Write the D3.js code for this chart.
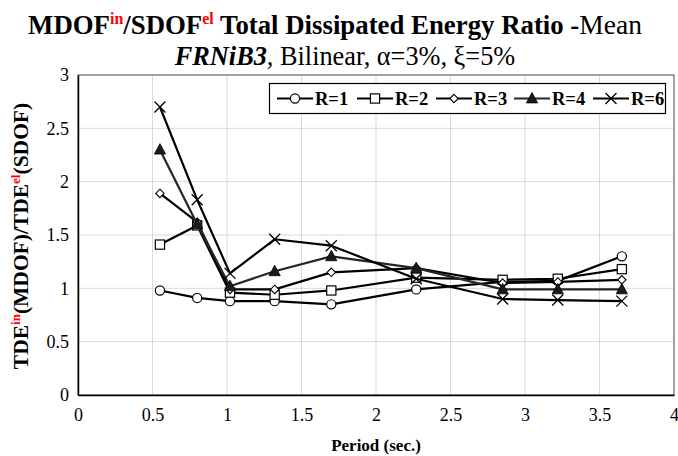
<!DOCTYPE html>
<html>
<head>
<meta charset="utf-8">
<script src="https://cdn.jsdelivr.net/npm/d3@7"></script>
<style>
  html, body { margin: 0; padding: 0; background: #fff; }
  svg { display: block; }
</style>
</head>
<body>
<svg id="chart" width="678" height="456"></svg>
<script>
// Mean total dissipated energy ratio vs. period, one series per R
const periods = [0.55, 0.8, 1.02, 1.32, 1.7, 2.27, 2.85, 3.22, 3.65];
const seriesNames = ["R=1", "R=2", "R=3", "R=4", "R=6"];
const r1 = [0.98, 0.91, 0.88, 0.88, 0.85, 0.99, 1.06, 1.07, 1.30];
const r2 = [1.41, 1.59, 0.96, 0.94, 0.98, 1.10, 1.08, 1.09, 1.18];
const r3 = [1.89, 1.62, 0.99, 0.99, 1.15, 1.19, 1.05, 1.06, 1.08];
const r4 = [2.30, 1.60, 1.02, 1.16, 1.30, 1.19, 0.99, 0.99, 0.99];
const r6 = [2.70, 1.83, 1.14, 1.46, 1.40, 1.09, 0.90, 0.89, 0.88];
const xTicks = [0, 0.5, 1, 1.5, 2, 2.5, 3, 3.5, 4];
const yTicks = [0, 0.5, 1, 1.5, 2, 2.5, 3];

const seriesValues = [r1, r2, r3, r4, r6];
const markerKinds = ["circle", "square", "diamond", "triangle", "cross"];
const lineColors = ["#000", "#000", "#000", "#262626", "#000"];
const SERIF = "Liberation Serif, DejaVu Serif, serif";

const svg = d3.select("#chart").attr("font-family", SERIF);
const plot = { left: 78, right: 674, top: 75, bottom: 395 };

const x = d3.scaleLinear().domain([0, 4]).range([plot.left, plot.right]);
const y = d3.scaleLinear().domain([0, 3]).range([plot.bottom, plot.top]);

// gridlines
const grid = svg.append("g");
grid.selectAll("line.h").data(yTicks).join("line")
  .attr("x1", plot.left).attr("x2", plot.right)
  .attr("y1", d => y(d)).attr("y2", d => y(d))
  .attr("stroke", "#d9d9d9").attr("stroke-width", 1);
grid.selectAll("line.v").data(xTicks).join("line")
  .attr("y1", plot.top).attr("y2", plot.bottom)
  .attr("x1", d => x(d)).attr("x2", d => x(d))
  .attr("stroke", "#d9d9d9").attr("stroke-width", 1);

// plot frame
svg.append("rect")
  .attr("x", plot.left).attr("y", plot.top)
  .attr("width", plot.right - plot.left).attr("height", plot.bottom - plot.top)
  .attr("fill", "none").attr("stroke", "#595959").attr("stroke-width", 1);

// axes
const xAxis = d3.axisBottom(x).tickValues(xTicks).tickFormat(d3.format("")).tickSize(0).tickPadding(13);
const yAxis = d3.axisLeft(y).tickValues(yTicks).tickFormat(d3.format("")).tickSize(0).tickPadding(9);

const gx = svg.append("g").attr("transform", `translate(0,${plot.bottom})`).call(xAxis);
const gy = svg.append("g").attr("transform", `translate(${plot.left},0)`).call(yAxis);
[gx, gy].forEach(g => {
  g.attr("font-family", SERIF).attr("font-size", 18);
  g.select(".domain").attr("stroke", "#000").attr("stroke-width", 1.5);
  g.selectAll("text").attr("fill", "#000");
});

// marker drawing
function drawMarker(sel, kind) {
  if (kind === "circle") {
    sel.append("circle").attr("r", 4.6).attr("fill", "#fff").attr("stroke", "#000").attr("stroke-width", 1.2);
  } else if (kind === "square") {
    sel.append("rect").attr("x", -4.6).attr("y", -4.6).attr("width", 9.2).attr("height", 9.2)
      .attr("fill", "#fff").attr("stroke", "#000").attr("stroke-width", 1.2);
  } else if (kind === "diamond") {
    sel.append("path").attr("d", "M0,-4.2L4.2,0L0,4.2L-4.2,0Z")
      .attr("fill", "#fff").attr("stroke", "#000").attr("stroke-width", 1.1);
  } else if (kind === "triangle") {
    sel.append("path").attr("d", "M0,-6L5.6,4.4L-5.6,4.4Z")
      .attr("fill", "#1a1a1a").attr("stroke", "#000").attr("stroke-width", 0.8);
  } else if (kind === "cross") {
    sel.append("path").attr("d", "M-5.5,-5.5L5.5,5.5M-5.5,5.5L5.5,-5.5")
      .attr("fill", "none").attr("stroke", "#000").attr("stroke-width", 1.3);
  }
}

const line = d3.line().x(d => x(d[0])).y(d => y(d[1]));

seriesValues.forEach((vals, i) => {
  const pts = periods.map((p, j) => [p, vals[j]]);
  const g = svg.append("g");
  g.append("path").datum(pts).attr("d", line)
    .attr("fill", "none").attr("stroke", lineColors[i]).attr("stroke-width", 2.2)
    .attr("stroke-linejoin", "round");
  g.selectAll("g.m").data(pts).join("g")
    .attr("transform", d => `translate(${x(d[0])},${y(d[1])})`)
    .each(function () { drawMarker(d3.select(this), markerKinds[i]); });
});

// legend
const legend = svg.append("g");
legend.append("rect").attr("x", 269.5).attr("y", 83.5).attr("width", 396).attr("height", 30)
  .attr("fill", "#fff").attr("stroke", "#000").attr("stroke-width", 1.2);
const legendX = [277, 357, 436, 514, 593];
seriesNames.forEach((name, i) => {
  const g = legend.append("g").attr("transform", `translate(${legendX[i]},98.5)`);
  g.append("line").attr("x1", 0).attr("x2", 36).attr("y1", 0).attr("y2", 0)
    .attr("stroke", lineColors[i]).attr("stroke-width", 2.2);
  drawMarker(g.append("g").attr("transform", "translate(18,0)"), markerKinds[i]);
  g.append("text").attr("x", 38).attr("y", 6.5)
    .attr("font-size", 18.5).attr("font-weight", "bold").text(name);
});

// titles
const t1 = svg.append("text").attr("x", 335).attr("y", 34).attr("text-anchor", "middle")
  .attr("font-size", 26.8).attr("font-weight", "bold");
t1.append("tspan").text("MDOF");
t1.append("tspan").attr("font-size", 16).attr("fill", "#ff0000").attr("dy", -10).text("in");
t1.append("tspan").attr("dy", 10).text("/SDOF");
t1.append("tspan").attr("font-size", 16).attr("fill", "#ff0000").attr("dy", -10).text("el");
t1.append("tspan").attr("dy", 10).text(" Total Dissipated Energy Ratio -");
t1.append("tspan").attr("font-weight", "normal").attr("font-size", 27.5).text("Mean");

const t2 = svg.append("text").attr("x", 345).attr("y", 65).attr("text-anchor", "middle")
  .attr("font-size", 26.3);
t2.append("tspan").attr("font-weight", "bold").attr("font-style", "italic").text("FRNiB3");
t2.append("tspan").text(", Bilinear, α=3%, ξ=5%");

// axis titles
svg.append("text").attr("x", 376).attr("y", 451).attr("text-anchor", "middle")
  .attr("font-size", 17).attr("font-weight", "bold").text("Period (sec.)");

const yt = svg.append("text").attr("transform", "translate(28,236) rotate(-90)")
  .attr("text-anchor", "middle").attr("font-size", 21.5).attr("font-weight", "bold");
yt.append("tspan").text("TDE");
yt.append("tspan").attr("font-size", 13).attr("fill", "#ff0000").attr("dy", -8).text("in");
yt.append("tspan").attr("dy", 8).text("(MDOF)/TDE");
yt.append("tspan").attr("font-size", 13).attr("fill", "#ff0000").attr("dy", -8).text("el");
yt.append("tspan").attr("dy", 8).text("(SDOF)");
</script>
</body>
</html>
